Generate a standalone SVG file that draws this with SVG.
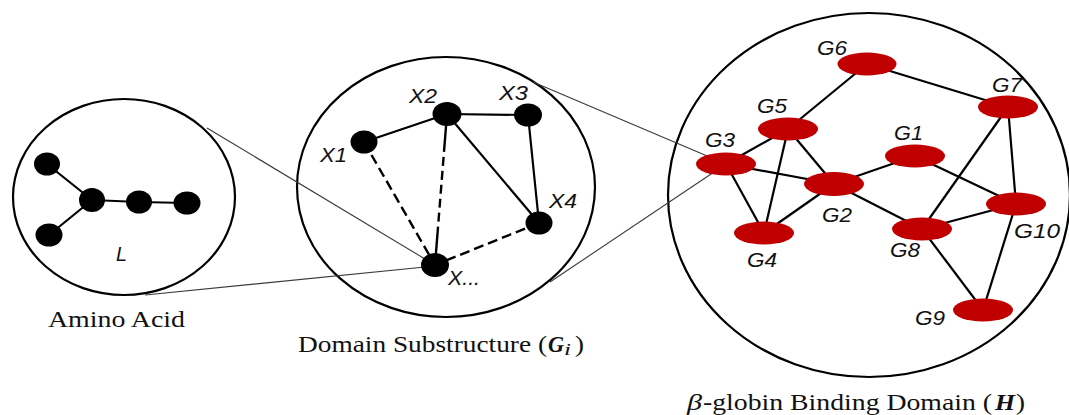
<svg xmlns="http://www.w3.org/2000/svg" width="1069" height="415" viewBox="0 0 1069 415">
<style>
.frame{fill:none;stroke:#000;stroke-width:2.2}
.zoom{stroke:#3a3a3a;stroke-width:1.1;fill:none}
.e{stroke:#000;stroke-width:2.2;fill:none}
.d{stroke:#000;stroke-width:2.4;fill:none;stroke-dasharray:10 5}
.bn{fill:#000}
.rn{fill:#C00000}
.lab{font-family:"Liberation Sans",Arial,sans-serif;font-style:italic;font-size:20.5px;fill:#111}
.cap{font-family:"Liberation Serif","Times New Roman",serif;font-size:24px;fill:#111}
.capbi{font-family:"Liberation Serif","Times New Roman",serif;font-size:24px;font-weight:bold;font-style:italic;fill:#111}
</style>
<rect width="1069" height="415" fill="#fff"/>
<g id="frames">
<ellipse id="amino-circle" class="frame" cx="124" cy="197" rx="111" ry="98"/>
<ellipse id="domain-circle" class="frame" cx="446" cy="187" rx="149" ry="130"/>
<ellipse id="binding-circle" class="frame" cx="869" cy="195" rx="201" ry="182"/>
</g>
<g id="connectors">
<line class="zoom" x1="207" y1="128" x2="435" y2="265"/>
<line class="zoom" x1="145" y1="295" x2="435" y2="266"/>
<line class="zoom" x1="533" y1="82" x2="726" y2="164"/>
<line class="zoom" x1="550" y1="282" x2="726" y2="164"/>
<line class="e" x1="92" y1="200" x2="47" y2="164"/>
<line class="e" x1="92" y1="200" x2="49" y2="235"/>
<line class="e" x1="92" y1="200" x2="139" y2="202"/>
<line class="e" x1="139" y1="202" x2="187" y2="203"/>
<line class="e" x1="364" y1="142" x2="447" y2="114"/>
<line class="e" x1="447" y1="114" x2="528" y2="115"/>
<line class="e" x1="447" y1="114" x2="539" y2="223"/>
<line class="e" x1="528" y1="115" x2="539" y2="223"/>
<line class="d" x1="364" y1="142" x2="435" y2="265"/>
<line class="d" x1="447" y1="114" x2="435" y2="265" style="stroke-dasharray:38 5 9 5 9 5 9 5 9 5 9 5 200"/>
<line class="d" x1="539" y1="223" x2="435" y2="265"/>
<line class="e" x1="867" y1="64" x2="788" y2="129"/>
<line class="e" x1="867" y1="64" x2="1008" y2="107"/>
<line class="e" x1="788" y1="129" x2="726" y2="164"/>
<line class="e" x1="788" y1="129" x2="764" y2="233"/>
<line class="e" x1="788" y1="129" x2="834" y2="184"/>
<line class="e" x1="726" y1="164" x2="834" y2="184"/>
<line class="e" x1="726" y1="164" x2="764" y2="233"/>
<line class="e" x1="764" y1="233" x2="834" y2="184"/>
<line class="e" x1="834" y1="184" x2="915" y2="156"/>
<line class="e" x1="834" y1="184" x2="922" y2="229"/>
<line class="e" x1="915" y1="156" x2="1016" y2="204"/>
<line class="e" x1="1008" y1="107" x2="922" y2="229"/>
<line class="e" x1="1008" y1="107" x2="1016" y2="204"/>
<line class="e" x1="922" y1="229" x2="1016" y2="204"/>
<line class="e" x1="922" y1="229" x2="983" y2="310"/>
<line class="e" x1="1016" y1="204" x2="983" y2="310"/>
</g>
<g id="amino">
<ellipse class="bn" cx="47" cy="164" rx="13" ry="11.5"/>
<ellipse class="bn" cx="92" cy="200" rx="13" ry="12"/>
<ellipse class="bn" cx="139" cy="202" rx="13" ry="11.5"/>
<ellipse class="bn" cx="187" cy="203" rx="13.5" ry="11.5"/>
<ellipse class="bn" cx="49" cy="235" rx="13.5" ry="11.5"/>
<text class="lab" x="116" y="261" textLength="11" lengthAdjust="spacingAndGlyphs">L</text>
</g>
<g id="node-X1"><ellipse class="bn" cx="364" cy="142" rx="13.5" ry="11.5"/><text class="lab" x="320" y="162" textLength="27" lengthAdjust="spacingAndGlyphs">X1</text></g>
<g id="node-X2"><ellipse class="bn" cx="447" cy="114" rx="14.5" ry="12"/><text class="lab" x="409" y="103" textLength="28" lengthAdjust="spacingAndGlyphs">X2</text></g>
<g id="node-X3"><ellipse class="bn" cx="528" cy="115" rx="14" ry="11.5"/><text class="lab" x="499" y="100" textLength="29" lengthAdjust="spacingAndGlyphs">X3</text></g>
<g id="node-X4"><ellipse class="bn" cx="539" cy="223" rx="13.5" ry="11.5"/><text class="lab" x="549" y="208" textLength="28" lengthAdjust="spacingAndGlyphs">X4</text></g>
<g id="node-Xn"><ellipse class="bn" cx="435" cy="265" rx="14" ry="12"/><text class="lab" x="448" y="285" textLength="32" lengthAdjust="spacingAndGlyphs">X...</text></g>
<g id="node-G6"><ellipse class="rn" cx="867" cy="64" rx="29.5" ry="11.5"/><text class="lab" x="817" y="55" textLength="30" lengthAdjust="spacingAndGlyphs">G6</text></g>
<g id="node-G7"><ellipse class="rn" cx="1008" cy="107" rx="30" ry="11.5"/><text class="lab" x="992" y="92" textLength="30" lengthAdjust="spacingAndGlyphs">G7</text></g>
<g id="node-G5"><ellipse class="rn" cx="788" cy="129" rx="30" ry="11.5"/><text class="lab" x="757" y="113" textLength="30" lengthAdjust="spacingAndGlyphs">G5</text></g>
<g id="node-G3"><ellipse class="rn" cx="726" cy="164" rx="30" ry="11.5"/><text class="lab" x="705" y="147" textLength="30" lengthAdjust="spacingAndGlyphs">G3</text></g>
<g id="node-G1"><ellipse class="rn" cx="915" cy="156" rx="30" ry="11.5"/><text class="lab" x="894" y="140" textLength="29" lengthAdjust="spacingAndGlyphs">G1</text></g>
<g id="node-G2"><ellipse class="rn" cx="834" cy="184" rx="30" ry="12"/><text class="lab" x="822" y="222" textLength="30" lengthAdjust="spacingAndGlyphs">G2</text></g>
<g id="node-G10"><ellipse class="rn" cx="1016" cy="204" rx="30" ry="11.5"/><text class="lab" x="1014" y="238" textLength="46" lengthAdjust="spacingAndGlyphs">G10</text></g>
<g id="node-G8"><ellipse class="rn" cx="922" cy="229" rx="30" ry="11.5"/><text class="lab" x="890" y="257" textLength="30" lengthAdjust="spacingAndGlyphs">G8</text></g>
<g id="node-G4"><ellipse class="rn" cx="764" cy="233" rx="30" ry="11.5"/><text class="lab" x="747" y="267" textLength="30" lengthAdjust="spacingAndGlyphs">G4</text></g>
<g id="node-G9"><ellipse class="rn" cx="983" cy="310" rx="30" ry="11.5"/><text class="lab" x="915" y="325" textLength="30" lengthAdjust="spacingAndGlyphs">G9</text></g>
<g id="captions">
<text class="cap" x="48" y="327" textLength="137" lengthAdjust="spacingAndGlyphs">Amino Acid</text>
<text class="cap" x="298" y="352" textLength="249" lengthAdjust="spacingAndGlyphs">Domain Substructure (</text>
<text class="capbi" x="548" y="352" textLength="16" lengthAdjust="spacingAndGlyphs">G</text>
<text class="cap" x="564" y="355" style="font-style:italic;font-size:16px" textLength="7" lengthAdjust="spacingAndGlyphs">i</text>
<text class="cap" x="575" y="352" textLength="9" lengthAdjust="spacingAndGlyphs">)</text>
<text class="cap" x="687" y="410" style="font-style:italic" textLength="15" lengthAdjust="spacingAndGlyphs">β</text>
<text class="cap" x="703" y="410" textLength="289" lengthAdjust="spacingAndGlyphs">-globin Binding Domain (</text>
<text class="capbi" x="995" y="410" textLength="20" lengthAdjust="spacingAndGlyphs">H</text>
<text class="cap" x="1016" y="410" textLength="9" lengthAdjust="spacingAndGlyphs">)</text>
</g>
</svg>
